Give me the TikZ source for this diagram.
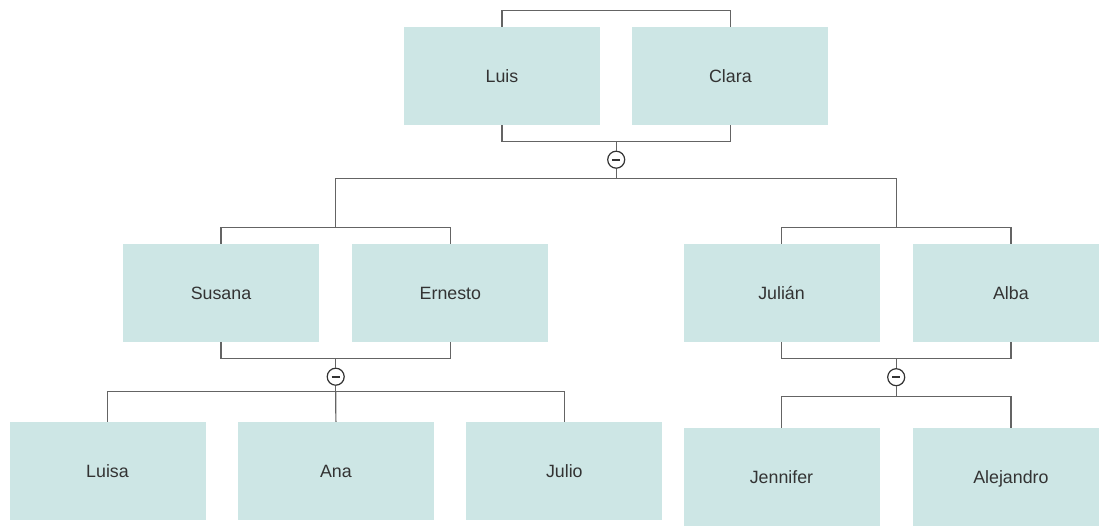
\documentclass[tikz,border=0pt]{standalone}
\usepackage{fontspec}
\setmainfont{Liberation Sans}
\usetikzlibrary{positioning,calc}
\definecolor{boxfill}{RGB}{205,230,229}
\definecolor{linegray}{RGB}{100,100,100}
\definecolor{textgray}{RGB}{51,51,51}
\tikzset{
person/.style=
    {rectangle,
    fill=boxfill,
    text=textgray,
    minimum width=196pt,
    minimum height=98pt,
    inner sep=0pt,
    font=\fontsize{17.8}{20}\selectfont,
    text height=12.7pt,
    text depth=0pt
    },
link/.style=
    {draw=linegray,
    line width=1.2pt
    },
union/.style=
    {circle,
    draw=textgray,
    fill=white,
    text=textgray,
    line width=1.2pt,
    minimum size=17pt,
    inner sep=0pt
    }}

\begin{document}
\begin{tikzpicture}[x=1pt,y=-1pt]
\useasboundingbox (0,0) rectangle (1099,525);

\node[person] (luis) at (502,76) {Luis};
\node[person,right=32pt of luis] (clara) {Clara};
\node[person] (susana) at (221,293) {Susana};
\node[person,right=33pt of susana] (ernesto) {Ernesto};
\node[person] (julian) at (781.5,293) {Julián};
\node[person,right=33pt of julian] (alba) {Alba};
\node[person] (luisa) at (107.5,471) {Luisa};
\node[person,right=32pt of luisa] (ana) {Ana};
\node[person,right=32pt of ana] (julio) {Julio};
\node[person] (jennifer) at (781.5,477) {Jennifer};
\node[person,right=33pt of jennifer] (alejandro) {Alejandro};

\draw[link] (luis.north) -- ++(0,-16.5) -| (clara.north);
\draw[link] (luis.south) -- ++(0,16) -| (clara.south);
\draw[link] (susana.north) -- ++(0,-16.5) -| (ernesto.north);
\draw[link] (susana.south) -- ++(0,16) -| (ernesto.south);
\draw[link] (julian.north) -- ++(0,-16.5) -| (alba.north);
\draw[link] (julian.south) -- ++(0,16) -| (alba.south);

\coordinate (top2) at ($(susana.north)!.5!(ernesto.north)+(0,-16.5)$);
\coordinate (top3) at ($(julian.north)!.5!(alba.north)+(0,-16.5)$);

\node[union] (u1) at ($(luis.south)!.5!(clara.south)+(0,34.5)$) {\rule[-1pt]{8pt}{2pt}};
\draw[link] (u1.north) -- ++(0,-10);
\draw[link] (u1.south) -- ++(0,10) coordinate (b1);
\draw[link] (top2) |- (b1) -| (top3);

\node[union] (u2) at ($(susana.south)!.5!(ernesto.south)+(0,34.5)$) {\rule[-1pt]{8pt}{2pt}};
\draw[link] (u2.north) -- ++(0,-10);
\draw[link] (u2.south) -- ++(0,6) coordinate (b2);
\draw[link] (luisa.north) |- (b2) -| (julio.north);
\draw[link] (b2) -- (ana.north);

\node[union] (u3) at ($(julian.south)!.5!(alba.south)+(0,35)$) {\rule[-1pt]{8pt}{2pt}};
\draw[link] (u3.north) -- ++(0,-10.5);
\draw[link] (u3.south) -- ++(0,10.5) coordinate (b3);
\draw[link] (jennifer.north) |- (b3) -| (alejandro.north);

\end{tikzpicture}
\end{document}
